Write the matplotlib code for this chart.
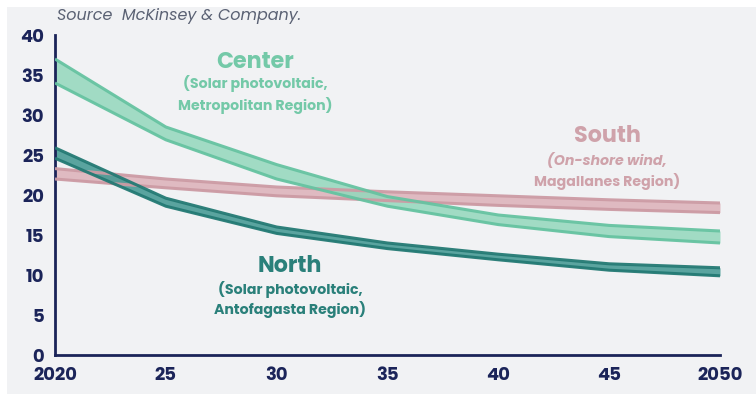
import matplotlib
matplotlib.use("Agg")
import matplotlib.pyplot as plt
from matplotlib.patches import Rectangle

years = [2020, 2025, 2030, 2035, 2040, 2045, 2050]
x_tick_labels = ["2020", "25", "30", "35", "40", "45", "2050"]
y_ticks = [0, 5, 10, 15, 20, 25, 30, 35, 40]

center_high = [37.0, 28.5, 23.8, 19.8, 17.5, 16.2, 15.5]
center_low = [34.0, 26.9, 22.0, 18.6, 16.3, 14.8, 14.0]
north_high = [25.9, 19.6, 16.0, 14.0, 12.6, 11.4, 10.9]
north_low = [24.6, 18.6, 15.2, 13.3, 11.9, 10.6, 9.9]
south_high = [23.3, 22.0, 21.0, 20.4, 19.9, 19.4, 19.0]
south_low = [22.0, 20.9, 19.9, 19.3, 18.7, 18.2, 17.8]

BG = "#f1f2f4"
NAVY = "#1b2459"
CENTER_EDGE, CENTER_FILL = "#66c3a1", "#93d8bc"
NORTH_EDGE, NORTH_FILL = "#247a74", "#3f9790"
SOUTH_EDGE, SOUTH_FILL = "#cc9ba4", "#dcb1b8"
CENTER_TEXT = "#74c9a8"
SOUTH_TEXT = "#cfa2aa"
NORTH_TEXT = "#2a807a"

FONT = ["Poppins", "Open Sans", "DejaVu Sans"]
plt.rcParams["font.family"] = FONT

fig = plt.figure(figsize=(7.56, 3.94), dpi=100)
fig.patch.set_facecolor("white")
fig.add_artist(Rectangle((7 / 756, -0.05), 1.05, 1.05 - 7 / 394, transform=fig.transFigure,
                         facecolor=BG, edgecolor="none", zorder=0))

ax = fig.add_axes([55 / 756, 1 - 355 / 394, (720 - 55) / 756, (355 - 35) / 394])
ax.set_facecolor("none")


def band(high, low, edge, fill, alpha):
    ax.fill_between(years, low, high, color=fill, alpha=alpha, lw=0, zorder=2)
    ax.plot(years, high, color=edge, lw=2.2, alpha=0.95, zorder=3, solid_capstyle="butt")
    ax.plot(years, low, color=edge, lw=2.2, alpha=0.95, zorder=3, solid_capstyle="butt")


band(south_high, south_low, SOUTH_EDGE, SOUTH_FILL, 0.85)
band(center_high, center_low, CENTER_EDGE, CENTER_FILL, 0.85)
band(north_high, north_low, NORTH_EDGE, NORTH_FILL, 0.85)

ax.set_xlim(2020, 2050)
ax.set_ylim(0, 40)
ax.set_xticks(years)
ax.set_xticklabels(x_tick_labels)
ax.set_yticks(y_ticks)
ax.tick_params(length=0, labelsize=13, colors=NAVY)
ax.tick_params(axis="y", pad=8)
ax.tick_params(axis="x", pad=9)
for lab in ax.get_xticklabels() + ax.get_yticklabels():
    lab.set_fontweight("bold")

for s in ("top", "right"):
    ax.spines[s].set_visible(False)
for s in ("left", "bottom"):
    ax.spines[s].set_color(NAVY)
    ax.spines[s].set_linewidth(2)

fig.text(57 / 756, 1 - 16 / 394, "Source  McKinsey & Company.", fontsize=11.5,
         style="italic", color="#5a6173", va="center", ha="left")


def px(xp, yp):
    # figure pixel position (from top-left) -> data coordinates
    inv = ax.transData.inverted()
    return inv.transform((xp, 394 - yp))


def note(xp, yp, text, color, size, **kw):
    x, y = px(xp, yp)
    ax.text(x, y, text, color=color, fontsize=size, fontweight="bold",
            ha="center", va="center", **kw)


note(255, 62, "Center", CENTER_TEXT, 16)
note(255, 84, "(Solar photovoltaic,", CENTER_TEXT, 10.2)
note(255, 105, "Metropolitan Region)", CENTER_TEXT, 10.2)

note(607, 137, "South", SOUTH_TEXT, 16)
note(607, 161, "(On-shore wind,", SOUTH_TEXT, 10.2, style="italic")
note(607, 182, "Magallanes Region)", SOUTH_TEXT, 10.2)

note(290, 266, "North", NORTH_TEXT, 16)
note(290, 290, "(Solar photovoltaic,", NORTH_TEXT, 10.2)
note(290, 310, "Antofagasta Region)", NORTH_TEXT, 10.2)

fig.savefig("out.png", dpi=100, facecolor=fig.get_facecolor())
